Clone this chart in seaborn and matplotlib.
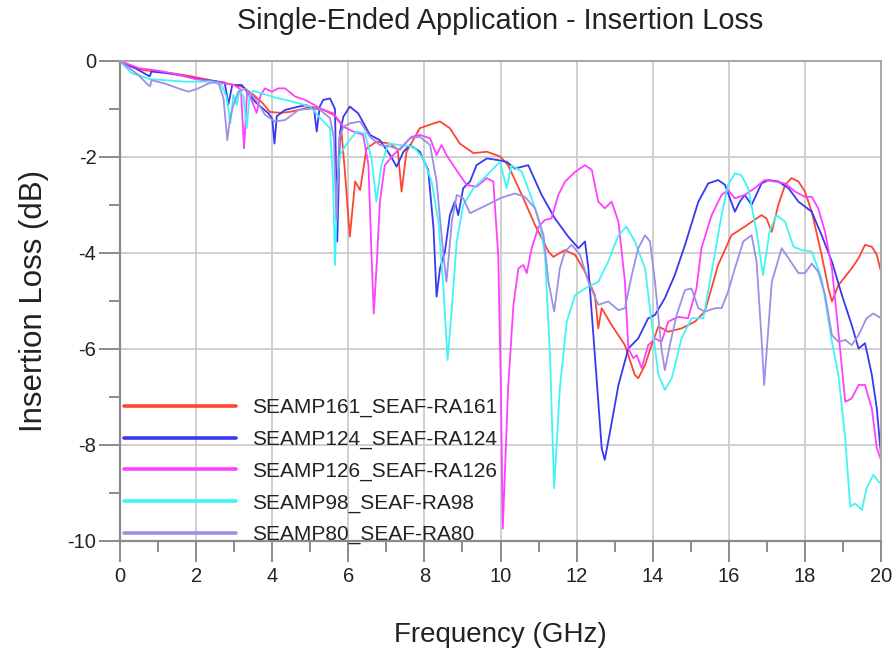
import numpy as np
import pandas as pd
import seaborn as sns
import matplotlib
matplotlib.use("Agg")
import matplotlib.pyplot as plt
from matplotlib.ticker import MultipleLocator

# ---------------- data ----------------
series_names = ["SEAMP161_SEAF-RA161", "SEAMP124_SEAF-RA124", "SEAMP126_SEAF-RA126",
                "SEAMP98_SEAF-RA98", "SEAMP80_SEAF-RA80"]
series_colors = ["#ff4530", "#3838f2", "#ff40ff", "#40f5f5", "#9a90e6"]

red_f = [0, 0.3, 0.61, 1.0, 1.5, 1.93, 2.5, 3.0, 3.23, 3.5, 3.75, 3.94, 4.2, 4.47, 4.8, 5.0, 5.3,
         5.61, 5.8, 5.9, 6.04, 6.18, 6.31, 6.48, 6.74, 7.1, 7.3, 7.4, 7.53, 7.88, 8.24, 8.41, 8.67,
         8.93, 9.29, 9.64, 9.99, 10.2, 10.56, 10.91, 11.26, 11.39, 11.69, 11.96, 12.22, 12.48,
         12.57, 12.66, 12.92, 13.27, 13.53, 13.62, 13.8, 13.97, 14.15, 14.41, 14.76, 15.11, 15.37,
         15.72, 16.07, 16.42, 16.86, 16.99, 17.13, 17.3, 17.48, 17.65, 17.83, 18.0, 18.18, 18.44,
         18.62, 18.71, 18.88, 19.23, 19.41, 19.58, 19.76, 19.89, 20.0]
red_v = [0, -0.12, -0.19, -0.22, -0.27, -0.33, -0.42, -0.5, -0.54, -0.7, -0.88, -1.06, -1.08,
         -1.06, -1.0, -0.95, -1.0, -1.12, -1.3, -2.2, -3.66, -2.51, -2.69, -1.82, -1.68, -1.72,
         -1.85, -2.72, -1.89, -1.40, -1.30, -1.26, -1.40, -1.72, -1.92, -1.89, -1.99, -2.17, -2.79,
         -3.42, -3.97, -4.08, -3.94, -4.04, -4.39, -4.88, -5.57, -5.15, -5.5, -5.92, -6.54, -6.61,
         -6.33, -5.92, -5.53, -5.64, -5.57, -5.43, -5.22, -4.25, -3.63, -3.45, -3.21, -3.28, -3.56,
         -3.0, -2.58, -2.44, -2.51, -2.72, -3.14, -4.04, -4.74, -5.01, -4.67, -4.32, -4.11, -3.83,
         -3.87, -4.04, -4.39]

blue_f = [0, 0.4, 0.78, 0.83, 1.2, 1.6, 2.0, 2.5, 2.75, 2.85, 2.95, 3.2, 3.55, 3.9, 4.0, 4.06,
          4.12, 4.34, 4.69, 4.9, 5.1, 5.17, 5.25, 5.34, 5.52, 5.65, 5.71, 5.78, 5.87, 6.04, 6.26,
          6.57, 6.83, 7.1, 7.27, 7.45, 7.62, 7.88, 8.1, 8.24, 8.32, 8.41, 8.54, 8.67, 8.8, 8.89,
          9.02, 9.2, 9.37, 9.64, 9.9, 10.16, 10.38, 10.73, 11.08, 11.43, 11.78, 12.05, 12.22, 12.31,
          12.48, 12.66, 12.74, 12.88, 13.1, 13.36, 13.62, 13.88, 14.06, 14.32, 14.58, 14.85, 15.2,
          15.46, 15.72, 15.9, 16.16, 16.29, 16.42, 16.6, 16.86, 17.04, 17.3, 17.57, 17.83, 18.18,
          18.44, 18.71, 18.97, 19.23, 19.41, 19.58, 19.76, 19.89, 20.0]
blue_v = [0, -0.15, -0.32, -0.22, -0.25, -0.3, -0.37, -0.42, -0.45, -0.9, -0.5, -0.5, -0.85,
          -1.09, -1.2, -1.72, -1.15, -1.02, -0.95, -0.92, -1.0, -1.47, -0.95, -0.81, -0.78, -1.0,
          -3.76, -1.5, -1.16, -0.95, -1.09, -1.54, -1.65, -1.96, -2.2, -1.89, -1.75, -1.89, -2.27,
          -3.49, -4.91, -4.32, -3.97, -3.21, -2.93, -3.21, -2.65, -2.51, -2.17, -2.03, -2.06, -2.1,
          -2.24, -2.17, -2.79, -3.28, -3.66, -3.9, -3.76, -4.32, -6.13, -8.07, -8.31, -7.72, -6.75,
          -5.99, -5.78, -5.36, -5.29, -4.94, -4.46, -3.83, -2.93, -2.55, -2.48, -2.58, -3.14, -2.93,
          -2.79, -3.0, -2.55, -2.48, -2.51, -2.65, -2.93, -3.14, -3.63, -4.18, -4.87, -5.5, -5.99,
          -5.88, -6.54, -7.24, -8.21]

mag_f = [0, 0.5, 1.0, 1.5, 2.0, 2.5, 3.0, 3.18, 3.26, 3.34, 3.45, 3.59, 3.7, 3.81, 3.99, 4.16,
         4.34, 4.6, 4.86, 5.12, 5.26, 5.61, 5.87, 6.13, 6.39, 6.53, 6.61, 6.67, 6.76, 6.83, 6.96,
         7.18, 7.45, 7.66, 7.88, 8.15, 8.32, 8.45, 8.58, 8.84, 9.11, 9.37, 9.64, 9.81, 9.94, 10.01,
         10.06, 10.2, 10.34, 10.47, 10.6, 10.69, 10.82, 11.0, 11.17, 11.34, 11.52, 11.7, 11.96,
         12.22, 12.4, 12.57, 12.74, 12.92, 13.1, 13.27, 13.36, 13.49, 13.58, 13.71, 13.88, 14.06,
         14.23, 14.41, 14.67, 14.93, 15.15, 15.28, 15.55, 15.81, 15.98, 16.16, 16.42, 16.68, 16.94,
         17.2, 17.48, 17.74, 18.0, 18.18, 18.35, 18.53, 18.71, 18.88, 19.06, 19.23, 19.41, 19.58,
         19.76, 19.89, 20.0]
mag_v = [0, -0.15, -0.2, -0.28, -0.38, -0.43, -0.5, -0.6, -1.82, -0.65, -0.8, -1.08, -0.7, -0.57,
         -0.64, -0.57, -0.57, -0.74, -0.81, -0.92, -0.99, -1.09, -1.37, -1.47, -1.54, -2.17, -4.04,
         -5.26, -4.04, -2.93, -2.17, -1.96, -1.75, -1.58, -1.54, -1.61, -1.96, -1.75, -1.96, -2.27,
         -2.58, -2.62, -2.44, -2.51, -4.04, -6.82, -9.74, -6.82, -5.08, -4.32, -4.25, -4.42, -3.9,
         -3.45, -3.31, -3.28, -2.79, -2.51, -2.31, -2.17, -2.27, -2.93, -3.07, -2.93, -3.35, -4.6,
         -5.99, -6.19, -6.13, -6.4, -5.92, -5.78, -5.85, -5.43, -5.33, -5.36, -4.74, -3.9, -3.21,
         -2.79, -2.69, -2.86, -2.79, -2.65, -2.48, -2.51, -2.55, -2.72, -2.83, -2.83, -3.07, -3.56,
         -4.32, -5.64, -7.1, -7.03, -6.75, -6.75, -7.24, -8.07, -8.31]

cyan_f = [0, 0.3, 0.8, 1.2, 1.7, 2.4, 2.67, 2.8, 2.9, 2.98, 3.07, 3.14, 3.25, 3.33, 3.41, 3.5,
          4.12, 4.56, 5.0, 5.26, 5.52, 5.6, 5.65, 5.71, 5.78, 5.96, 6.22, 6.44, 6.61, 6.74, 6.87,
          7.05, 7.36, 7.71, 7.97, 8.19, 8.37, 8.5, 8.61, 8.72, 8.85, 9.02, 9.29, 9.64, 9.99, 10.16,
          10.29, 10.56, 10.82, 11.04, 11.17, 11.3, 11.41, 11.56, 11.74, 11.96, 12.22, 12.57, 12.83,
          13.1, 13.31, 13.53, 13.8, 13.97, 14.15, 14.32, 14.5, 14.76, 15.02, 15.33, 15.55, 15.81,
          15.98, 16.16, 16.33, 16.51, 16.73, 16.9, 17.07, 17.25, 17.48, 17.7, 17.92, 18.18, 18.44,
          18.71, 18.88, 19.06, 19.19, 19.32, 19.5, 19.62, 19.8, 19.93, 20.0]
cyan_v = [0, -0.25, -0.38, -0.4, -0.43, -0.43, -0.5, -0.75, -1.3, -0.7, -0.92, -0.6, -0.75, -1.4,
          -0.7, -0.62, -0.77, -0.85, -0.95, -1.19, -1.4, -2.5, -4.25, -2.6, -1.96, -1.72, -1.47,
          -1.51, -2.03, -2.93, -2.17, -1.72, -1.75, -1.78, -2.03, -2.51, -3.35, -4.74, -6.23, -5.15,
          -3.76, -3.0, -2.65, -2.38, -2.1, -2.65, -2.17, -2.31, -2.86, -3.42, -4.04, -6.13, -8.9,
          -6.82, -5.43, -4.88, -4.74, -4.6, -4.18, -3.63, -3.45, -3.76, -4.32, -5.43, -6.54, -6.85,
          -6.61, -5.78, -5.36, -5.36, -4.39, -3.21, -2.58, -2.34, -2.38, -2.65, -3.56, -4.46, -3.56,
          -3.21, -3.35, -3.87, -3.94, -3.97, -4.53, -5.85, -6.54, -7.86, -9.28, -9.22, -9.35, -8.9,
          -8.62, -8.76, -8.8]

lav_f = [0, 0.48, 0.74, 0.79, 0.83, 1.18, 1.53, 1.8, 2.06, 2.32, 2.58, 2.72, 2.82, 2.89, 2.98,
         3.11, 3.29, 3.55, 3.81, 4.07, 4.34, 4.69, 5.04, 5.26, 5.52, 5.62, 5.69, 5.76, 5.87, 6.04,
         6.31, 6.57, 6.83, 7.1, 7.36, 7.62, 7.88, 8.15, 8.32, 8.5, 8.58, 8.72, 8.85, 9.02, 9.2,
         9.46, 9.72, 9.99, 10.25, 10.38, 10.64, 10.91, 11.13, 11.26, 11.41, 11.56, 11.69, 11.87,
         12.09, 12.31, 12.57, 12.83, 13.1, 13.27, 13.45, 13.62, 13.8, 13.93, 14.06, 14.23, 14.32,
         14.45, 14.63, 14.85, 15.02, 15.2, 15.37, 15.64, 15.81, 15.98, 16.16, 16.38, 16.6, 16.73,
         16.86, 16.93, 17.02, 17.13, 17.39, 17.57, 17.83, 18.0, 18.18, 18.35, 18.53, 18.71, 18.88,
         19.06, 19.23, 19.41, 19.62, 19.8, 20.0]
lav_v = [0, -0.29, -0.5, -0.53, -0.4, -0.47, -0.57, -0.64, -0.57, -0.47, -0.43, -0.78, -1.65,
         -1.2, -0.92, -0.64, -0.57, -0.78, -1.12, -1.26, -1.23, -1.02, -0.99, -1.02, -1.19, -1.6,
         -3.3, -1.6, -1.37, -1.3, -1.26, -1.58, -1.75, -1.78, -1.85, -1.61, -1.58, -1.75, -2.51,
         -4.04, -4.6, -3.35, -2.79, -2.86, -3.17, -3.07, -2.97, -2.86, -2.79, -2.76, -2.83, -3.07,
         -3.63, -4.6, -5.22, -4.32, -3.97, -3.83, -4.04, -4.6, -5.08, -5.01, -5.19, -5.15, -4.46,
         -3.9, -3.63, -3.76, -4.6, -5.99, -6.44, -5.92, -5.29, -4.77, -4.74, -5.15, -5.22, -5.15,
         -5.15, -4.81, -4.32, -3.76, -3.63, -4.18, -5.78, -6.75, -5.78, -4.6, -3.9, -4.11, -4.42,
         -4.42, -4.22, -4.39, -4.87, -5.71, -5.85, -5.81, -5.92, -5.71, -5.36, -5.26, -5.36]

x_ticks = [0, 2, 4, 6, 8, 10, 12, 14, 16, 18, 20]
y_ticks = [0, -2, -4, -6, -8, -10]
title_text = "Single-Ended Application - Insertion Loss"
x_label = "Frequency (GHz)"
y_label = "Insertion Loss (dB)"

# ---------------- build long table ----------------
frames = []
for name, f, v in zip(series_names,
                      [red_f, blue_f, mag_f, cyan_f, lav_f],
                      [red_v, blue_v, mag_v, cyan_v, lav_v]):
    frames.append(pd.DataFrame({"freq": f, "loss": v, "series": name}))
df = pd.concat(frames, ignore_index=True)

# ---------------- style ----------------
sns.set_theme(style="white")
plt.rcParams["font.family"] = ["Liberation Sans", "DejaVu Sans"]
plt.rcParams["axes.unicode_minus"] = False

fig = plt.figure(figsize=(8.96, 6.48), dpi=100)
ax = fig.add_axes([120 / 896, 1 - 541 / 648, (881 - 120) / 896, (541 - 61) / 648])

sns.lineplot(data=df, x="freq", y="loss", hue="series", hue_order=series_names,
             palette=series_colors, sort=False, estimator=None, linewidth=1.3, ax=ax)

ax.set_xlim(0, 20)
ax.set_ylim(-10, 0)
ax.set_xticks(x_ticks)
ax.set_yticks(y_ticks)
ax.xaxis.set_minor_locator(MultipleLocator(1))
ax.yaxis.set_minor_locator(MultipleLocator(1))
ax.grid(True, which="major", color="#cccccc", linewidth=1.3)
ax.set_axisbelow(True)

for side in ["left", "bottom"]:
    ax.spines[side].set_color("#8a8a8a")
    ax.spines[side].set_linewidth(1.6)
for side in ["top", "right"]:
    ax.spines[side].set_color("#a8a8a8")
    ax.spines[side].set_linewidth(1.4)

ax.tick_params(which="both", bottom=True, left=True, top=False, right=False)
ax.tick_params(axis="x", which="major", direction="out", length=15, width=1.4, color="#8a8a8a",
               labelsize=14.5, labelcolor="#222222", pad=4)
ax.tick_params(axis="y", which="major", direction="out", length=15, width=1.4, color="#8a8a8a",
               labelsize=14.5, labelcolor="#222222", pad=2)
ax.tick_params(which="minor", direction="out", length=8, width=1.4, color="#8a8a8a")

ax.set_title(title_text, fontsize=20.8, color="#222222", pad=23)
ax.set_xlabel(x_label, fontsize=20, color="#222222", labelpad=26)
ax.set_ylabel(y_label, fontsize=22.5, color="#222222", labelpad=13)

leg = ax.legend(loc="lower left", bbox_to_anchor=(0.005, -0.007), frameon=False,
                fontsize=15, handlelength=5.4, handletextpad=0.77, labelspacing=0.6,
                borderaxespad=0.0, borderpad=0.0)
for line in leg.get_lines():
    line.set_linewidth(2.6)
for t in leg.get_texts():
    t.set_color("#222222")

fig.savefig("out.png", dpi=100)
